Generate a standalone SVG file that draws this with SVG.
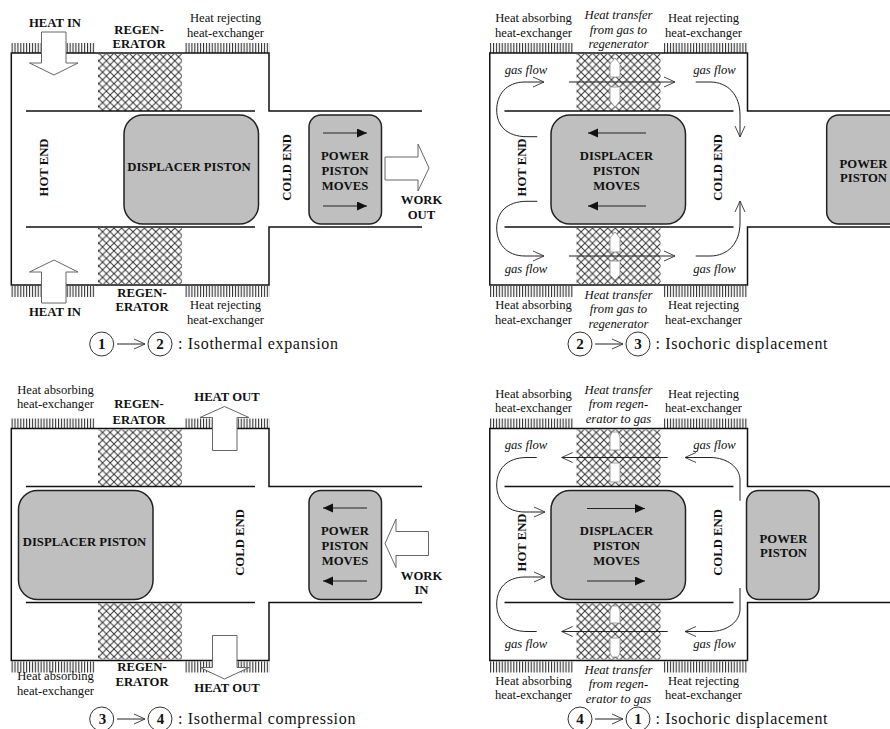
<svg xmlns="http://www.w3.org/2000/svg" xmlns:xlink="http://www.w3.org/1999/xlink" width="890" height="729" viewBox="0 0 890 729">
<style>
text{font-family:"Liberation Serif","Times New Roman",serif;fill:#111;text-anchor:middle}
.b{font-weight:bold;font-size:12.700px}
.r{font-size:12.600px}
.i{font-style:italic;font-size:12.700px}
.c{font-size:16px;letter-spacing:.68px;text-anchor:start}
.n{font-weight:bold;font-size:15px}
.wall{fill:none;stroke:#111;stroke-width:1.500}
.hatch{fill:url(#hatch)}
.ticks{fill:url(#ticks)}
.disp{fill:#bfbfbf;stroke:#222;stroke-width:1.500}
.block{fill:#fff;stroke:#666;stroke-width:1}
.slot{fill:#fff;stroke:#888;stroke-width:.8}
.move{fill:none;stroke:#222;stroke-width:1;marker-end:url(#tri)}
.flow{fill:none;stroke:#222;stroke-width:1;marker-end:url(#vee)}
.circ{fill:#fff;stroke:#333;stroke-width:1}
</style>
<defs>
<pattern id="hatch" width="7.600" height="7.600" patternUnits="userSpaceOnUse">
<path d="M-1 -1L8.600 8.600M-1 8.600L8.600 -1" stroke="#333" stroke-width="1"/>
</pattern>
<pattern id="ticks" width="2.900" height="12" patternUnits="userSpaceOnUse">
<rect x="0" y="0" width="1.100" height="12" fill="#333"/>
</pattern>
<marker id="tri" markerUnits="userSpaceOnUse" markerWidth="11" markerHeight="10" refX="10" refY="4.500" orient="auto">
<path d="M0 0L10 4.500L0 9Z" fill="#111"/>
</marker>
<marker id="vee" markerUnits="userSpaceOnUse" markerWidth="13" markerHeight="12" refX="12" refY="6" orient="auto">
<path d="M1 1L12 6L1 11" fill="none" stroke="#333" stroke-width=".9"/>
</marker>
<g id="shell">
<rect class="ticks" x="11" y="43" width="84" height="10"/>
<rect class="ticks" x="185" y="43" width="84.500" height="10"/>
<rect class="ticks" x="11" y="286" width="84" height="11"/>
<rect class="ticks" x="185" y="286" width="84.500" height="11"/>
<rect class="hatch" x="98" y="54" width="84" height="57"/>
<rect class="hatch" x="98" y="228" width="84" height="56"/>
<path class="wall" d="M422 111H269V53H11.300V285H269V227H422"/>
<path class="wall" d="M26 111H255M26 227H255"/>
</g>
</defs>
<rect width="890" height="729" fill="#fff"/>

<g id="panel-1-2-shell"><use xlink:href="#shell" href="#shell"/></g>
<g id="panel-2-3-shell"><use xlink:href="#shell" href="#shell" x="478.500"/></g>
<g id="panel-3-4-shell"><use xlink:href="#shell" href="#shell" y="375.500"/></g>
<g id="panel-4-1-shell"><use xlink:href="#shell" href="#shell" x="478.500" y="375.500"/></g>

<g id="panel-1-2">
<g id="a-displacer"><rect class="disp" x="124" y="115" width="134.500" height="109" rx="19"/><text class="b" x="189" y="170.500">DISPLACER PISTON</text></g>
<g id="a-power"><rect class="disp" x="309" y="115" width="72.500" height="109" rx="12"/><text class="b" x="345" y="160">POWER</text><text class="b" x="345" y="175">PISTON</text><text class="b" x="345" y="189.500">MOVES</text></g>
<g id="a-heat-in-top"><path class="block" d="M41.500 32H66V63H78L54 75L29.500 63H41.500Z"/><text class="b" x="55" y="26.500">HEAT IN</text></g>
<g id="a-heat-in-bottom"><path class="block" d="M41.500 303H66V272H78L54 260L29.500 272H41.500Z"/><text class="b" x="55" y="316">HEAT IN</text></g>
<g id="a-work-out"><path class="block" d="M385 157H418V144L429 168L418 191V180H385Z"/><text class="b" x="421.500" y="204">WORK</text><text class="b" x="421.500" y="218.500">OUT</text></g>
<g id="a-labels">
<text class="b" x="139" y="33.500">REGEN-</text><text class="b" x="139" y="48">ERATOR</text>
<text class="r" x="225.500" y="22">Heat rejecting</text><text class="r" x="225.500" y="36.500">heat-exchanger</text>
<text class="b" x="142" y="296.500">REGEN-</text><text class="b" x="142" y="311">ERATOR</text>
<text class="r" x="225.500" y="309">Heat rejecting</text><text class="r" x="225.500" y="323.500">heat-exchanger</text>
<text class="b" transform="translate(48 167.500) rotate(-90)">HOT END</text>
<text class="b" transform="translate(290.500 167.500) rotate(-90)">COLD END</text>
</g>
<g id="a-caption"><circle class="circ" cx="101.700" cy="344" r="12"/><text class="n" x="101.700" y="349">1</text><circle class="circ" cx="160" cy="344" r="12"/><text class="n" x="160" y="349">2</text><text class="c" x="178" y="348.500">: Isothermal expansion</text></g>
</g>

<g id="panel-2-3">
<g id="b-displacer"><rect class="disp" x="551" y="115" width="134.500" height="109" rx="19"/><text class="b" x="616.500" y="160">DISPLACER</text><text class="b" x="616.500" y="175">PISTON</text><text class="b" x="616.500" y="189.500">MOVES</text></g>
<g id="b-power"><rect class="disp" x="826.700" y="115" width="90" height="109" rx="12"/><text class="b" x="863.500" y="167.500">POWER</text><text class="b" x="863.500" y="182">PISTON</text></g>
<g id="b-slots">
<path class="slot" d="M610 77V64L615 58L620 64V77Z"/><path class="slot" d="M610 87H620V101L615 107L610 101Z"/>
<path class="slot" d="M610 252V238L615 232L620 238V252Z"/><path class="slot" d="M610 261H620V275L615 280L610 275Z"/>
</g>
<g id="b-labels">
<text class="r" x="533.500" y="22">Heat absorbing</text><text class="r" x="533.500" y="36.500">heat-exchanger</text>
<text class="i" x="618.500" y="18.500">Heat transfer</text><text class="i" x="618.500" y="33.500">from gas to</text><text class="i" x="618.500" y="48">regenerator</text>
<text class="r" x="703.500" y="22">Heat rejecting</text><text class="r" x="703.500" y="36.500">heat-exchanger</text>
<text class="r" x="533.500" y="309">Heat absorbing</text><text class="r" x="533.500" y="323.500">heat-exchanger</text>
<text class="i" x="618.500" y="298.500">Heat transfer</text><text class="i" x="618.500" y="313">from gas to</text><text class="i" x="618.500" y="327.500">regenerator</text>
<text class="r" x="703.500" y="309">Heat rejecting</text><text class="r" x="703.500" y="323.500">heat-exchanger</text>
<text class="i" x="526" y="73.500">gas flow</text><text class="i" x="714.500" y="73.500">gas flow</text>
<text class="i" x="526" y="272.500">gas flow</text><text class="i" x="714.500" y="272.500">gas flow</text>
<text class="b" transform="translate(526 167.500) rotate(-90)">HOT END</text>
<text class="b" transform="translate(721.500 167.500) rotate(-90)">COLD END</text>
</g>
<g id="b-caption"><circle class="circ" cx="580" cy="344" r="12"/><text class="n" x="580" y="349">2</text><circle class="circ" cx="638" cy="344" r="12"/><text class="n" x="638" y="349">3</text><text class="c" x="655.500" y="348.500">: Isochoric displacement</text></g>
</g>

<g id="panel-3-4">
<g id="c-displacer"><rect class="disp" x="18.500" y="490.500" width="134.500" height="109" rx="19"/><text class="b" x="84.500" y="546">DISPLACER PISTON</text></g>
<g id="c-power"><rect class="disp" x="309" y="490.500" width="72.500" height="109" rx="12"/><text class="b" x="345" y="535">POWER</text><text class="b" x="345" y="550">PISTON</text><text class="b" x="345" y="564.500">MOVES</text></g>
<g id="c-heat-out-top"><path class="block" d="M212.500 450.500H237V417.500H249L224.500 406.500L200 417.500H212.500Z"/><text class="b" x="227" y="400.500">HEAT OUT</text></g>
<g id="c-heat-out-bottom"><path class="block" d="M212.500 635.500H237V667.500H249L224.500 679L200 667.500H212.500Z"/><text class="b" x="227" y="691.500">HEAT OUT</text></g>
<g id="c-work-in"><path class="block" d="M428.500 531.500H396V519L385 543.500L396 567.500V555.500H428.500Z"/><text class="b" x="421.500" y="579.500">WORK</text><text class="b" x="421.500" y="594">IN</text></g>
<g id="c-labels">
<text class="r" x="55.500" y="393.500">Heat absorbing</text><text class="r" x="55.500" y="408">heat-exchanger</text>
<text class="b" x="139" y="408">REGEN-</text><text class="b" x="139" y="423.500">ERATOR</text>
<text class="r" x="55.500" y="679.500">Heat absorbing</text><text class="r" x="55.500" y="695">heat-exchanger</text>
<text class="b" x="142" y="671">REGEN-</text><text class="b" x="142" y="686">ERATOR</text>
<text class="b" transform="translate(244 542.500) rotate(-90)">COLD END</text>
</g>
<g id="c-caption"><circle class="circ" cx="101.700" cy="719" r="12"/><text class="n" x="102.500" y="724">3</text><circle class="circ" cx="160" cy="719" r="12"/><text class="n" x="160.500" y="724">4</text><text class="c" x="178" y="723.500">: Isothermal compression</text></g>
</g>

<g id="panel-4-1">
<g id="d-displacer"><rect class="disp" x="551" y="490.500" width="134.500" height="109" rx="19"/><text class="b" x="616.500" y="535">DISPLACER</text><text class="b" x="616.500" y="550">PISTON</text><text class="b" x="616.500" y="564.500">MOVES</text></g>
<g id="d-power"><rect class="disp" x="746.500" y="490.500" width="72.500" height="109" rx="12"/><text class="b" x="783.500" y="542.500">POWER</text><text class="b" x="783.500" y="557">PISTON</text></g>
<g id="d-slots">
<path class="slot" d="M610 450V437L612 432H618L620 437V450Z"/><path class="slot" d="M610 463H620V482H610Z"/>
<path class="slot" d="M610 623V611L612 606H618L620 611V623Z"/><path class="slot" d="M610 638H620V653L618 657H612L610 653Z"/>
</g>
<g id="d-labels">
<text class="r" x="533.500" y="397.500">Heat absorbing</text><text class="r" x="533.500" y="412">heat-exchanger</text>
<text class="i" x="618.500" y="393.500">Heat transfer</text><text class="i" x="618.500" y="408">from regen-</text><text class="i" x="618.500" y="423">erator to gas</text>
<text class="r" x="703.500" y="397.500">Heat rejecting</text><text class="r" x="703.500" y="412">heat-exchanger</text>
<text class="r" x="533.500" y="684.500">Heat absorbing</text><text class="r" x="533.500" y="699">heat-exchanger</text>
<text class="i" x="618.500" y="673.500">Heat transfer</text><text class="i" x="618.500" y="688">from regen-</text><text class="i" x="618.500" y="703">erator to gas</text>
<text class="r" x="703.500" y="684.500">Heat rejecting</text><text class="r" x="703.500" y="699">heat-exchanger</text>
<text class="i" x="526" y="449">gas flow</text><text class="i" x="714.500" y="449">gas flow</text>
<text class="i" x="526" y="648">gas flow</text><text class="i" x="714.500" y="648">gas flow</text>
<text class="b" transform="translate(526 542.500) rotate(-90)">HOT END</text>
<text class="b" transform="translate(721.500 542.500) rotate(-90)">COLD END</text>
</g>
<g id="d-caption"><circle class="circ" cx="580" cy="719" r="12"/><text class="n" x="580" y="724">4</text><circle class="circ" cx="638" cy="719" r="12"/><text class="n" x="638" y="724">1</text><text class="c" x="655.500" y="723.500">: Isochoric displacement</text></g>
</g>

<g id="connectors">
<path class="move" d="M323 133H367"/><path class="move" d="M323 206H367"/>
<path class="flow" d="M117 344H145"/>

<path class="move" d="M646 133H588"/><path class="move" d="M646 206H588"/>
<path class="flow" d="M537.300 136.700H527C506 136.700 496.700 125 496.700 110C496.700 95 506 82 525 82H544"/>
<path class="flow" d="M537.300 201.300H527C506 201.300 496.700 213 496.700 228C496.700 243 506 256 525 256H544"/>
<path class="flow" d="M569 82H675"/><path class="flow" d="M569 256H675"/>
<path class="flow" d="M695.700 82H710C728 82 740 95 740 115V137"/>
<path class="flow" d="M695.700 256H710C728 256 740 243 740 223V201"/>
<path class="flow" d="M595 344H623"/>

<path class="move" d="M367 508H323"/><path class="move" d="M367 581H323"/>
<path class="flow" d="M117 719H145"/>

<path class="move" d="M587 508.500H645"/><path class="move" d="M587 581H645"/>
<path class="flow" d="M536.700 457.500H527C506 457.500 496.700 470 496.700 485C496.700 500 506 512 525 512H545"/>
<path class="flow" d="M536.700 631.500H527C506 631.500 496.700 619 496.700 604C496.700 589 506 577 525 577H545"/>
<path class="flow" d="M667.700 457.500H561.700"/><path class="flow" d="M667.700 631.500H561.700"/>
<path class="flow" d="M740 500.700V480C740 468 728 457.500 710 457.500H685"/>
<path class="flow" d="M740 588V609C740 621 728 631.500 710 631.500H685"/>
<path class="flow" d="M595 719H623"/>
</g>
</svg>
